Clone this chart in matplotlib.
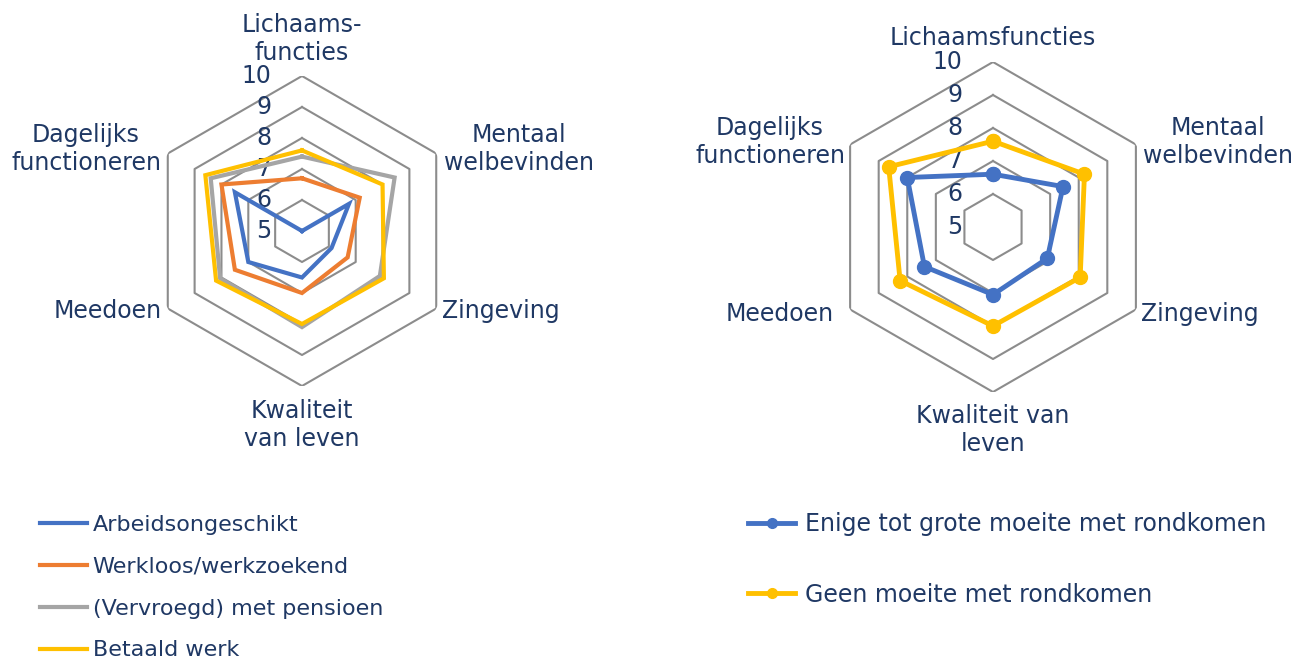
import numpy as np
import matplotlib
matplotlib.use("Agg")
import matplotlib.pyplot as plt
from matplotlib.lines import Line2D

# Categorieën (met de klok mee, beginnend bovenaan)
cats_links = ["Lichaams-\nfuncties", "Mentaal\nwelbevinden", "Zingeving",
              "Kwaliteit\nvan leven", "Meedoen", "Dagelijks\nfunctioneren"]
cats_rechts = ["Lichaamsfuncties", "Mentaal\nwelbevinden", "Zingeving",
               "Kwaliteit van\nleven", "Meedoen", "Dagelijks\nfunctioneren"]

# Linker grafiek: arbeidssituatie
arbeidsongeschikt = [5.0, 6.75, 6.1, 6.5, 7.0, 7.5]
werkloos = [6.7, 7.15, 6.7, 7.0, 7.5, 8.0]
pensioen = [7.4, 8.45, 7.9, 8.1, 8.05, 8.4]
betaald_werk = [7.6, 8.0, 8.05, 8.0, 8.2, 8.6]

# Rechter grafiek: rondkomen
moeite = [6.6, 7.45, 6.9, 7.05, 7.4, 8.0]
geen_moeite = [7.6, 8.2, 8.05, 8.0, 8.25, 8.65]

ringen = [6, 7, 8, 9, 10]
tick_labels = ["5", "6", "7", "8", "9", "10"]

navy = "#1F3864"
grijs_grid = "#8C8C8C"
blauw, oranje, grijs, geel = "#4472C4", "#ED7D31", "#A5A5A5", "#FFC000"

W, H = 1295, 660
fig = plt.figure(figsize=(W / 100, H / 100), dpi=100)

hoeken = np.linspace(0, 2 * np.pi, 6, endpoint=False)
hoeken_dicht = np.append(hoeken, hoeken[0])


def dicht(v):
    return list(v) + [v[0]]


def maak_radar(cx, cy, r):
    ax = fig.add_axes([(cx - r) / W, 1 - (cy + r) / H, 2 * r / W, 2 * r / H],
                      projection="polar")
    ax.set_theta_zero_location("N")
    ax.set_theta_direction(-1)
    ax.set_ylim(5, 10)
    ax.grid(False)
    ax.spines["polar"].set_visible(False)
    ax.set_xticks([])
    ax.set_yticks([])
    ax.patch.set_alpha(0)
    for ring in ringen:
        ax.plot(hoeken_dicht, [ring] * 7, color=grijs_grid, lw=1.5, zorder=1)
    for i, t in enumerate(tick_labels):
        ax.annotate(t, xy=(0, 5 + i), xytext=(-22, 0), textcoords="offset points",
                    ha="right", va="center", fontsize=17, color=navy,
                    annotation_clip=False)
    return ax


def tekst(x, y, s, ha="center"):
    fig.text(x / W, 1 - y / H, s, ha=ha, va="center", fontsize=17, color=navy,
             linespacing=1.2)


# Linker radar
ax1 = maak_radar(302, 231, 155)
for waarden, kleur in [(arbeidsongeschikt, blauw), (werkloos, oranje),
                       (pensioen, grijs), (betaald_werk, geel)]:
    ax1.plot(hoeken_dicht, dicht(waarden), color=kleur, lw=3, zorder=3,
             solid_joinstyle="miter")

tekst(302, 39, cats_links[0])
tekst(519, 149, cats_links[1])
tekst(501, 311, cats_links[2])
tekst(302, 425, cats_links[3])
tekst(108, 311, cats_links[4])
tekst(86, 149, cats_links[5])

# Rechter radar
ax2 = maak_radar(993, 227, 165)
for waarden, kleur in [(moeite, blauw), (geen_moeite, geel)]:
    ax2.plot(hoeken_dicht, dicht(waarden), color=kleur, lw=3.5, zorder=3,
             marker="o", markersize=10)

tekst(993, 38, cats_rechts[0])
tekst(1218, 142, cats_rechts[1])
tekst(1200, 314, cats_rechts[2])
tekst(993, 430, cats_rechts[3])
tekst(780, 314, cats_rechts[4])
tekst(770, 142, cats_rechts[5])

# Legenda's
h_links = [Line2D([], [], color=c, lw=3) for c in (blauw, oranje, grijs, geel)]
lab_links = ["Arbeidsongeschikt", "Werkloos/werkzoekend",
             "(Vervroegd) met pensioen", "Betaald werk"]
leg1 = fig.legend(h_links, lab_links, loc="upper left",
                  bbox_to_anchor=(20 / W, 1 - 495 / H), frameon=False,
                  fontsize=16, labelspacing=0.98, handlelength=2.1,
                  handletextpad=0.27, labelcolor=navy)

h_rechts = [Line2D([], [], color=c, lw=3.5, marker="o", markersize=7)
            for c in (blauw, geel)]
lab_rechts = ["Enige tot grote moeite met rondkomen", "Geen moeite met rondkomen"]
leg2 = fig.legend(h_rechts, lab_rechts, loc="upper left",
                  bbox_to_anchor=(727 / W, 1 - 491 / H), frameon=False,
                  fontsize=17, labelspacing=1.96, handlelength=2.0,
                  handletextpad=0.42, labelcolor=navy)

fig.savefig("out.png", dpi=100)
